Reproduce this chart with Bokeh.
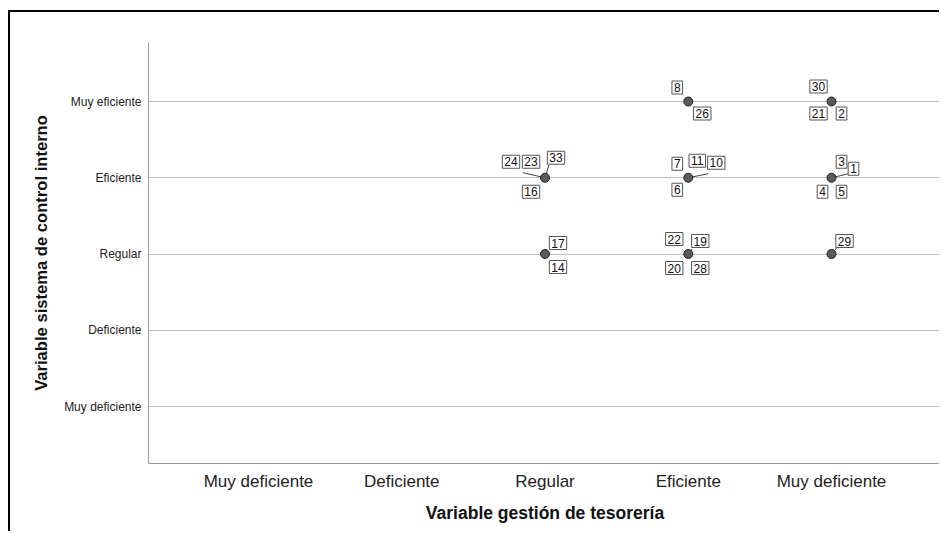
from bokeh.plotting import figure
from bokeh.models import Range1d, FixedTicker, Label
from bokeh.embed import file_html
from bokeh.resources import INLINE

# ---------------- data ----------------
x_tick_labels = ["Muy deficiente", "Deficiente", "Regular", "Eficiente", "Muy deficiente"]
y_tick_labels = ["Muy deficiente", "Deficiente", "Regular", "Eficiente", "Muy eficiente"]

point_x = [3, 4, 4, 5, 5, 3, 4, 5]
point_y = [4, 5, 4, 5, 4, 3, 3, 3]

case_ids = [24, 23, 33, 16, 8, 26, 7, 11, 10, 6, 30, 21, 2, 3, 1, 4, 5, 17, 14, 22, 19, 20, 28, 29]
case_x = [3, 3, 3, 3, 4, 4, 4, 4, 4, 4, 5, 5, 5, 5, 5, 5, 5, 3, 3, 4, 4, 4, 4, 5]
case_y = [4, 4, 4, 4, 5, 5, 4, 4, 4, 4, 5, 5, 5, 4, 4, 4, 4, 3, 3, 3, 3, 3, 3, 3]

# ---------------- layout (screen-pixel offsets of the case labels) ----------------
label_dx = [-34, -14, 11, -14, -11, 14, -11, 9, 28, -11, -13, -13, 10, 10, 22, -9, 10, 13, 13, -14, 12, -14, 12, 13]
label_dy = [-16, -16, -20, 14, -14, 12, -14, -17, -15, 12, -15, 12, 12, -16, -9, 14, 14, -11, 13, -15, -13, 14, 14, -13]
leader_end = {23: (-22, -5), 33: (4, -13), 10: (20, -4), 1: (17, -4), 29: (5, -6), 19: (4, -5), 17: (4, -3)}

ML, MT, BW = 8, 10, 2          # offset and width of the outer black frame
W, H = 941 - ML - BW, 533 - MT - BW
BL, BR, BT, BB = 138, 0, 30, 70
x_start, y_start = 0.232, 0.2525
px_per_x = 143.25
px_per_y = 76.25
x_end = x_start + (W - BL - BR) / px_per_x
y_end = y_start + (H - BT - BB) / px_per_y

p = figure(width=W, height=H, output_backend="svg", toolbar_location=None,
           x_range=Range1d(x_start, x_end), y_range=Range1d(y_start, y_end),
           min_border_left=BL, min_border_right=BR, min_border_top=BT, min_border_bottom=BB)
p.styles = {"border-top": f"{BW}px solid black", "border-left": f"{BW}px solid black",
            "margin-left": f"{ML}px", "margin-top": f"{MT}px"}
p.outline_line_color = None
p.background_fill_color = "white"
p.border_fill_color = "white"

p.xgrid.visible = False
p.ygrid.grid_line_color = "#bdbdbd"
p.ygrid.grid_line_width = 1

p.xaxis.ticker = FixedTicker(ticks=[1, 2, 3, 4, 5])
p.yaxis.ticker = FixedTicker(ticks=[1, 2, 3, 4, 5])
p.xaxis.major_label_overrides = {i + 1: t for i, t in enumerate(x_tick_labels)}
p.yaxis.major_label_overrides = {i + 1: t for i, t in enumerate(y_tick_labels)}

for ax in (p.xaxis[0], p.yaxis[0]):
    ax.axis_line_color = "#9a9a9a"
    ax.axis_line_width = 1
    ax.major_tick_line_color = None
    ax.minor_tick_line_color = None
    ax.major_tick_out = 0
    ax.major_tick_in = 0
    ax.minor_tick_out = 0
    ax.minor_tick_in = 0
    ax.major_label_text_font = "Liberation Sans"
    ax.major_label_text_color = "#222222"
    ax.axis_label_text_font = "Liberation Sans"
    ax.axis_label_text_font_style = "bold"
    ax.axis_label_text_color = "#111111"

p.xaxis.major_label_text_font_size = "17px"
p.xaxis.major_label_standoff = 8
p.xaxis.axis_label = "Variable gestión de tesorería"
p.xaxis.axis_label_text_font_size = "17.5px"
p.xaxis.axis_label_standoff = 9

p.yaxis.major_label_text_font_size = "12px"
p.yaxis.major_label_standoff = 7
p.yaxis.axis_label = "Variable sistema de control interno"
p.yaxis.axis_label_text_font_size = "16.6px"
p.yaxis.axis_label_standoff = 10

# leader lines
lx0, ly0, lx1, ly1 = [], [], [], []
for cid, cx, cy in zip(case_ids, case_x, case_y):
    if cid in leader_end:
        dx, dy = leader_end[cid]
        lx0.append(cx); ly0.append(cy)
        lx1.append(cx + dx / px_per_x); ly1.append(cy - dy / px_per_y)
p.segment(lx0, ly0, lx1, ly1, line_color="#444444", line_width=1)

# points
p.scatter(point_x, point_y, size=9, fill_color="#5a5a5a", line_color="#222222", line_width=1)

# case labels
for cid, cx, cy, dx, dy in zip(case_ids, case_x, case_y, label_dx, label_dy):
    p.add_layout(Label(x=cx, y=cy, x_offset=dx, y_offset=-dy, text=str(cid),
                       text_font="Liberation Sans", text_font_size="12px", text_color="#111111",
                       text_align="center", text_baseline="middle",
                       background_fill_color="white", border_line_color="#555555",
                       border_line_width=1, padding=2))

open("out.html", "w").write(file_html(p, INLINE))
